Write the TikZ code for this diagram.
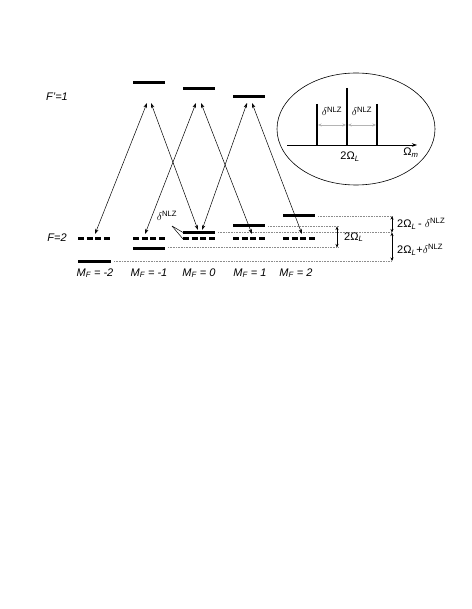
\documentclass[tikz,border=0pt]{standalone}
\usepackage{amsmath}
\usepackage{fontspec}
\setmainfont{Liberation Sans}
\usetikzlibrary{arrows.meta,positioning,calc}
\definecolor{lv}{HTML}{000000}
\definecolor{dt}{HTML}{8C8C8C}
\definecolor{sp}{HTML}{B4B4B4}
\newcommand{\Nlz}{\ensuremath{\delta}\textsuperscript{NLZ}}
\newcommand{\TwoOm}{2Ω\textsubscript{\itshape L}}
\newcommand{\Mf}[1]{M\textsubscript{F} = #1}

\tikzset{
  lev/.style={lv, line width=3pt},
  dlev/.style={lv, line width=3pt, dash pattern=on 6pt off 2.7pt},
  guide/.style={dt, densely dotted, line width=0.6pt},
  trans/.style={{Stealth[length=5pt,width=3.5pt]}-{Stealth[length=5pt,width=3.5pt]}, line width=0.5pt},
  gap/.style={{Stealth[length=3.5pt,width=3pt]}-{Stealth[length=3.5pt,width=3pt]}, line width=0.5pt},
  lbl/.style={font=\fontsize{11}{13}\selectfont, inner sep=0pt},
  ilbl/.style={font=\fontsize{11}{13}\selectfont\itshape, inner sep=0pt},
}

\begin{document}
\begin{tikzpicture}[x=1pt,y=-1pt]
  \useasboundingbox (0,0) rectangle (471,609);

  \node[ilbl] (Fu) at (57,97) {F'=1};
  \node[ilbl] (Fl) at (57,238) {F=2};

  \draw[lev] (133,83) -- (165,83);
  \draw[lev] (183,89) -- (215,89);
  \draw[lev] (233,97) -- (265,97);

  \foreach \m/\x in {m2/78,m1/133,z/183,p1/233,p2/283}
    \draw[dlev] (\x,239) -- ++(32,0);

  \draw[lev] (78,261) -- (111,261);
  \draw[lev] (133,248) -- (165,248);
  \draw[lev] (183,233) -- (215,233);
  \draw[lev] (233,226) -- (265,226);
  \draw[lev] (283,216) -- (315,216);

  \draw[guide] (318,216) -- (392,216);
  \draw[guide] (268,226.5) -- (339,226.5);
  \draw[guide] (218,232.5) -- (392,232.5);
  \draw[guide] (168,247.5) -- (339,247.5);
  \draw[guide] (114,261) -- (392,261);

  \coordinate (ua) at (147,103);
  \coordinate (ub) at (151,103);
  \coordinate (uc) at (196,103);
  \coordinate (ud) at (201,103);
  \coordinate (ue) at (247,103);
  \coordinate (uf) at (252,103);
  \coordinate (lm2) at (95,234);
  \coordinate (lm1) at (145,234);
  \coordinate (lza) at (198,230);
  \coordinate (lzb) at (202,230);
  \coordinate (lp1) at (252,234);
  \coordinate (lp2) at (302,234);

  \draw[trans] (ua) -- (lm2);
  \draw[trans] (ub) -- (lza);
  \draw[trans] (uc) -- (lm1);
  \draw[trans] (ud) -- (lp1);
  \draw[trans] (ue) -- (lzb);
  \draw[trans] (uf) -- (lp2);

  \node[lbl] (nz) at (167,216) {\Nlz};
  \coordinate (pv) at (172,226);
  \draw[line width=0.5pt] (pv) -- (183,232.5);
  \draw[line width=0.5pt] (pv) -- (183,239);

  \coordinate (ga) at (337,226.5);
  \coordinate (gb) at (337,247.5);
  \draw[gap] (ga) -- (gb);
  \node[lbl, anchor=west] (g1) at (344,237) {\TwoOm};
  \coordinate (ra) at (392,216);
  \coordinate (rb) at (392,232.5);
  \coordinate (rc) at (392,261);
  \draw[gap] (ra) -- (rb);
  \draw[gap] (rb) -- (rc);
  \node[lbl, anchor=west] (g2) at (397,224) {\TwoOm\,- \Nlz};
  \node[lbl, anchor=west] (g3) at (397,250) {\TwoOm+\Nlz};

  \node[ilbl, anchor=base] (mm2) at (95,276) {\Mf{-2}};
  \node[ilbl, anchor=base] (mm1) at (149,276) {\Mf{-1}};
  \node[ilbl, anchor=base] (mz) at (199,276) {\Mf{0}};
  \node[ilbl, anchor=base] (mp1) at (250,276) {\Mf{1}};
  \node[ilbl, anchor=base] (mp2) at (296,276) {\Mf{2}};

  \draw[line width=0.6pt] (356,129) ellipse [x radius=79, y radius=56];
  \coordinate (ax0) at (287,145);
  \coordinate (ax1) at (417,145);
  \draw[-{Stealth[length=5pt,width=3.5pt]}, line width=0.6pt] (ax0) -- (ax1);
  \draw[line width=1.4pt] (347,88) -- (347,145);
  \draw[line width=1.4pt] (317,104) -- (317,145);
  \draw[line width=1.4pt] (377,104) -- (377,145);
  \coordinate (sa) at (318,125);
  \coordinate (sb) at (346,125);
  \coordinate (sc) at (348,125);
  \coordinate (sd) at (376,125);
  \draw[gap, sp] (sa) -- (sb);
  \draw[gap, sp] (sc) -- (sd);
  \node[lbl, anchor=base] (s1) at (332,116) {\Nlz};
  \node[lbl, anchor=base] (s2) at (362,116) {\Nlz};
  \node[lbl, anchor=base] (s3) at (350,160) {\TwoOm};
  \node[lbl, anchor=base] (s4) at (411,156) {Ω\textsubscript{\itshape m}};
\end{tikzpicture}
\end{document}
